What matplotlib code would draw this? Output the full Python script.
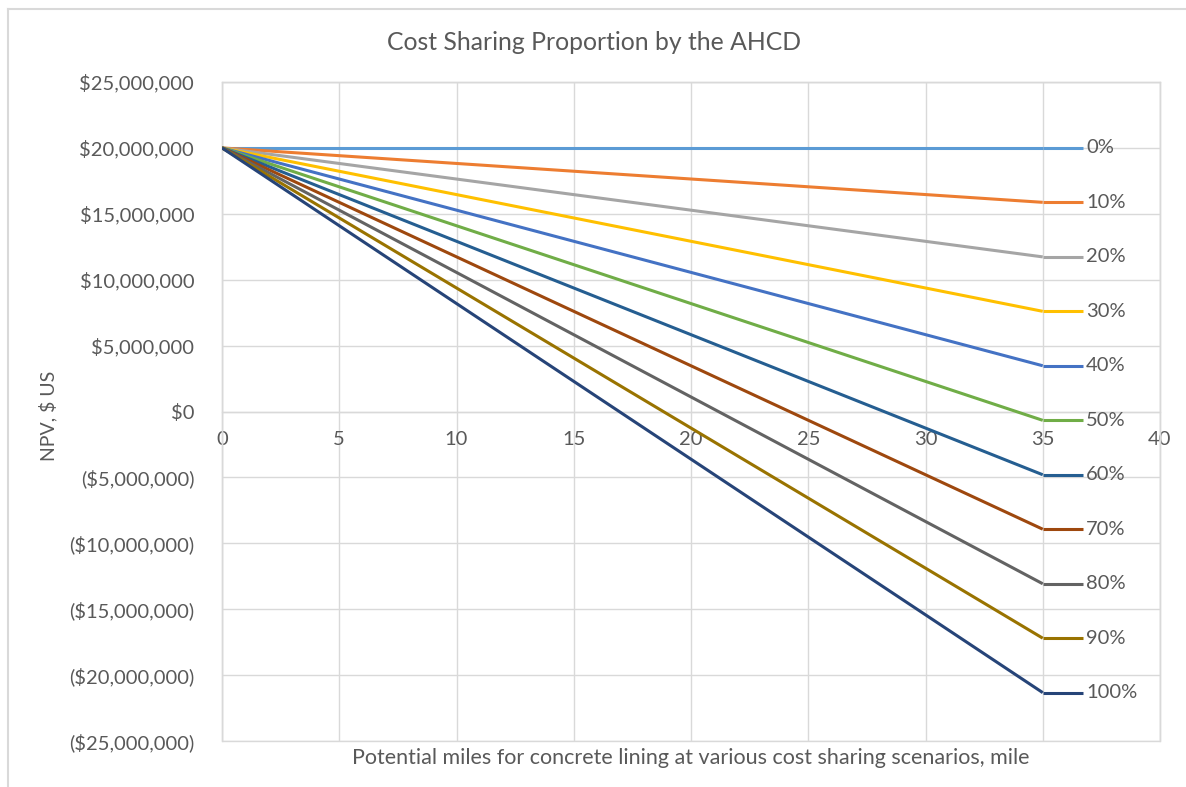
import matplotlib
matplotlib.use("Agg")
import matplotlib.pyplot as plt
from matplotlib.lines import Line2D
from matplotlib.patches import Rectangle
from matplotlib.ticker import FuncFormatter, MultipleLocator

plt.rcParams['font.family'] = ['Lato', 'DejaVu Sans']

# ---- data ----
scenarios = ['0%', '10%', '20%', '30%', '40%', '50%', '60%', '70%', '80%', '90%', '100%']
miles = [0, 35]
npv_start = [20.0e6] * 11
npv_end = [20.0e6, 15.87e6, 11.73e6, 7.60e6, 3.47e6, -0.67e6, -4.80e6,
           -8.93e6, -13.07e6, -17.20e6, -21.33e6]
colors = ['#5B9BD5', '#ED7D31', '#A5A5A5', '#FFC000', '#4472C4', '#70AD47',
          '#255E91', '#9E480E', '#636363', '#997300', '#264478']
title = 'Cost Sharing Proportion by the AHCD'
xlabel = 'Potential miles for concrete lining at various cost sharing scenarios, mile'
ylabel = 'NPV, $ US'

TXT = '#595959'
GRID = '#D9D9D9'

W, H = 1186, 787
fig = plt.figure(figsize=(W / 100, H / 100), dpi=100)
ax = fig.add_axes([222 / W, 1 - 741 / H, (1160 - 222) / W, (741 - 82) / H])

for name, s, e, c in zip(scenarios, npv_start, npv_end, colors):
    ax.plot(miles, [s, e], color=c, lw=2.2, solid_capstyle='butt', zorder=3)
    # leader line + data label
    ax.plot([miles[-1], 36.7], [e, e], color=c, lw=2.2, solid_capstyle='butt', zorder=3)
    ax.text(36.85, e, name, color=TXT, fontsize=14.5, ha='left', va='center')

ax.set_xlim(0, 40)
ax.set_ylim(-25e6, 25e6)
ax.xaxis.set_major_locator(MultipleLocator(5))
ax.yaxis.set_major_locator(MultipleLocator(5e6))


def money(v, pos):
    v = int(round(v))
    if v < 0:
        return '(${:,})'.format(-v)
    return '${:,}'.format(v)


ax.yaxis.set_major_formatter(FuncFormatter(money))
ax.grid(True, color=GRID, lw=1.0, zorder=0)
ax.set_axisbelow(True)

for sp in ['top', 'right', 'left']:
    ax.spines[sp].set_color(GRID)
    ax.spines[sp].set_linewidth(1.0)
ax.spines['bottom'].set_position(('data', 0))
ax.spines['bottom'].set_color(GRID)
ax.spines['bottom'].set_linewidth(1.0)
# bottom border of plot area
ax.add_patch(Rectangle((0, 0), 1, 1, transform=ax.transAxes, fill=False,
                       edgecolor=GRID, lw=1.0, zorder=1, clip_on=False))

ax.tick_params(axis='x', length=0, pad=14, labelsize=14.5, labelcolor=TXT)
ax.tick_params(axis='y', length=0, pad=20, labelsize=14.5, labelcolor=TXT)

fig.text(594 / W, 1 - 43 / H, title, ha='center', va='center', fontsize=17.8, color=TXT)
fig.text(691 / W, 1 - 758 / H, xlabel, ha='center', va='center', fontsize=15.5, color=TXT)
fig.text(48 / W, 1 - 416 / H, ylabel, ha='center', va='center', fontsize=14,
         color=TXT, rotation=90)

# chart-area border (partially visible)
fig.add_artist(Line2D([8 / W, 8 / W], [0, 1 - 9 / H], color=GRID, lw=1.5))
fig.add_artist(Line2D([8 / W, 1], [1 - 9 / H, 1 - 9 / H], color=GRID, lw=1.5))

fig.savefig('out.png', dpi=100, facecolor='white')
